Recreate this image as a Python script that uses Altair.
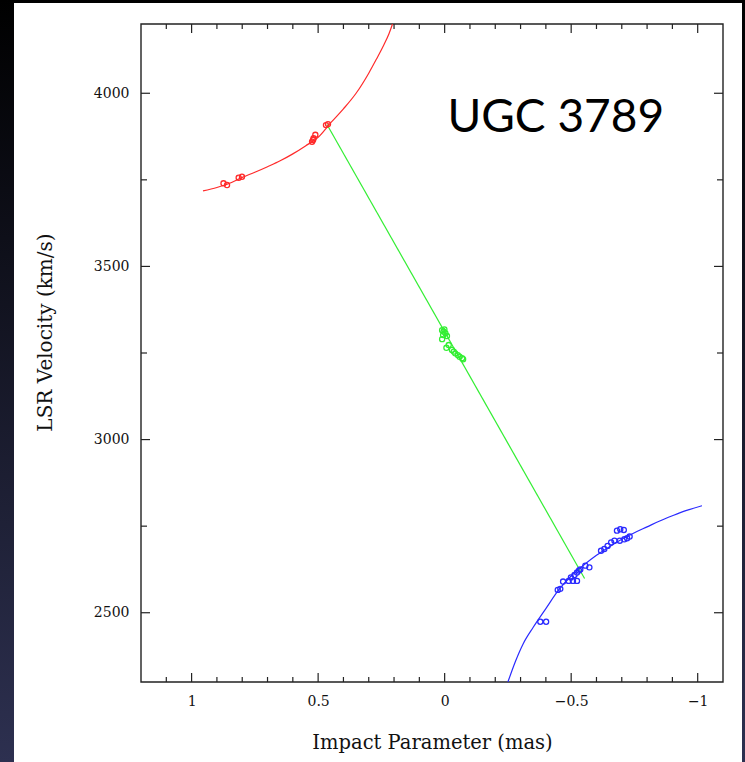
import altair as alt
import pandas as pd

# ---- data ----
red_curve_b = [0.955, 0.90, 0.85, 0.80, 0.75, 0.70, 0.65, 0.60, 0.55, 0.50, 0.45, 0.40, 0.35, 0.30, 0.27, 0.24, 0.22, 0.206]
red_curve_v = [3718, 3728, 3740, 3757, 3772, 3788, 3805, 3825, 3848, 3873, 3915, 3955, 4000, 4058, 4098, 4140, 4172, 4200]

blue_curve_b = [-0.25, -0.28, -0.31, -0.35, -0.40, -0.45, -0.50, -0.55, -0.60, -0.65, -0.70, -0.75, -0.80, -0.85, -0.90, -0.95, -1.017]
blue_curve_v = [2300, 2360, 2410, 2458, 2512, 2565, 2606, 2638, 2666, 2690, 2712, 2731, 2748, 2765, 2780, 2794, 2809]

green_line_b = [0.465, -0.553]
green_line_v = [3910, 2599]

red_pts_b = [0.874, 0.860, 0.814, 0.801, 0.524, 0.518, 0.511, 0.520, 0.469, 0.461]
red_pts_v = [3740, 3735, 3756, 3759, 3860, 3870, 3880, 3865, 3908, 3911]

green_pts_b = [0.010, 0.004, -0.003, 0.006, -0.009, 0.010, -0.016, -0.007, -0.029, -0.036, -0.042, -0.052, -0.059, -0.069, -0.073, 0.001]
green_pts_v = [3316, 3312, 3307, 3302, 3299, 3290, 3273, 3265, 3259, 3254, 3249, 3244, 3239, 3235, 3232, 3318]

blue_pts_b = [-0.378, -0.401, -0.447, -0.457, -0.468, -0.490, -0.507, -0.523, -0.499, -0.513, -0.523, -0.531, -0.536,
              -0.556, -0.572, -0.618, -0.631, -0.644, -0.658, -0.671, -0.681, -0.694, -0.708, -0.692, -0.710, -0.721, -0.731]
blue_pts_v = [2474, 2474, 2566, 2569, 2590, 2592, 2592, 2592, 2602, 2609, 2616, 2622, 2625,
              2636, 2631, 2679, 2684, 2693, 2703, 2708, 2737, 2741, 2739, 2708, 2712, 2715, 2720]

x_major = [1, 0.5, 0, -0.5, -1]
x_minor = [1.1, 0.9, 0.8, 0.7, 0.6, 0.4, 0.3, 0.2, 0.1, -0.1, -0.2, -0.3, -0.4, -0.6, -0.7, -0.8, -0.9]
y_major = [2500, 3000, 3500, 4000]
y_minor = [2750, 3250, 3750]

label_text = ["UGC 3789"]
label_b = [-0.011]
label_v = [3888]

# ---- layout ----
W, H = 582, 658
PAD = {"left": 141, "top": 24, "right": 22, "bottom": 80}

xs = alt.Scale(domain=[-1.1, 1.2], reverse=True, nice=False, zero=False)
ys = alt.Scale(domain=[2300, 4200], nice=False, zero=False)

x_axis = alt.Axis(values=x_major, format="~g", labelFont="DejaVu Serif", labelFontSize=14,
                  labelColor="#111111", labelPadding=12, domain=False, ticks=False, grid=False,
                  title="Impact Parameter (mas)", titleFont="DejaVu Serif", titleFontSize=19.5,
                  titleFontWeight="normal", titleColor="#111111", titlePadding=25, zindex=1)
y_axis = alt.Axis(values=y_major, format="d", labelFont="DejaVu Serif", labelFontSize=14,
                  labelColor="#111111", labelPadding=12, domain=False, ticks=False, grid=False,
                  title="LSR Velocity (km/s)", titleFont="DejaVu Serif", titleFontSize=20,
                  titleFontWeight="normal", titleColor="#111111", titlePadding=38, titleY=308, zindex=1)

def X():
    return alt.X("b:Q", scale=xs, axis=x_axis)

def Y():
    return alt.Y("v:Q", scale=ys, axis=y_axis)

one = alt.Data(values=[{"k": 1}])

bg = alt.Chart(one).mark_rect(
    color=alt.LinearGradient(gradient="linear",
                             stops=[alt.GradientStop(color="#000000", offset=0),
                                    alt.GradientStop(color="#2d3050", offset=1)],
                             x1=0, x2=0, y1=0, y2=1)
).encode(x=alt.value(-141), x2=alt.value(604), y=alt.value(-24), y2=alt.value(738))

panel = alt.Chart(one).mark_rect(color="white").encode(
    x=alt.value(-127), x2=alt.value(601), y=alt.value(-21), y2=alt.value(738))

frame = alt.Chart(one).mark_rect(filled=False, stroke="#222222", strokeWidth=1.4).encode(
    x=alt.value(0), x2=alt.value(W), y=alt.value(0), y2=alt.value(H))

xmaj = pd.DataFrame({"b": x_major})
xmin = pd.DataFrame({"b": x_minor})
ymaj = pd.DataFrame({"v": y_major})
ymin = pd.DataFrame({"v": y_minor})

tick_color = "#222222"
ticks = [
    alt.Chart(xmaj).mark_rule(color=tick_color, strokeWidth=1.2).encode(x=X(), y=alt.value(H), y2=alt.value(H - 9)),
    alt.Chart(xmaj).mark_rule(color=tick_color, strokeWidth=1.2).encode(x=X(), y=alt.value(0), y2=alt.value(9)),
    alt.Chart(xmin).mark_rule(color=tick_color, strokeWidth=1.2).encode(x=X(), y=alt.value(H), y2=alt.value(H - 5)),
    alt.Chart(xmin).mark_rule(color=tick_color, strokeWidth=1.2).encode(x=X(), y=alt.value(0), y2=alt.value(5)),
    alt.Chart(ymaj).mark_rule(color=tick_color, strokeWidth=1.2).encode(y=Y(), x=alt.value(0), x2=alt.value(9)),
    alt.Chart(ymaj).mark_rule(color=tick_color, strokeWidth=1.2).encode(y=Y(), x=alt.value(W), x2=alt.value(W - 9)),
    alt.Chart(ymin).mark_rule(color=tick_color, strokeWidth=1.2).encode(y=Y(), x=alt.value(0), x2=alt.value(6)),
    alt.Chart(ymin).mark_rule(color=tick_color, strokeWidth=1.2).encode(y=Y(), x=alt.value(W), x2=alt.value(W - 6)),
]

RED, GREEN, BLUE = "#ff2a2a", "#33ee33", "#2a2aff"

green_line = alt.Chart(pd.DataFrame({"b": green_line_b, "v": green_line_v})).mark_line(
    color=GREEN, strokeWidth=1.2, clip=True).encode(x=X(), y=Y())
red_line = alt.Chart(pd.DataFrame({"b": red_curve_b, "v": red_curve_v})).mark_line(
    color=RED, strokeWidth=1.2, interpolate="monotone", clip=True).encode(x=X(), y=Y(), order="b:Q")
blue_line = alt.Chart(pd.DataFrame({"b": blue_curve_b, "v": blue_curve_v})).mark_line(
    color=BLUE, strokeWidth=1.2, interpolate="monotone", clip=True).encode(x=X(), y=Y(), order="b:Q")

def pts(bs, vs, c):
    return alt.Chart(pd.DataFrame({"b": bs, "v": vs})).mark_point(
        shape="circle", filled=False, size=26, strokeWidth=1.3, color=c, opacity=1).encode(x=X(), y=Y())

red_p = pts(red_pts_b, red_pts_v, RED)
green_p = pts(green_pts_b, green_pts_v, GREEN)
blue_p = pts(blue_pts_b, blue_pts_v, BLUE)

label = alt.Chart(pd.DataFrame({"b": label_b, "v": label_v, "t": label_text})).mark_text(
    font="Lato", fontSize=46, color="black", align="left", baseline="alphabetic").encode(
    x=X(), y=Y(), text="t:N")

chart = alt.layer(bg, panel, frame, *ticks, green_line, red_line, blue_line, red_p, green_p, blue_p, label).properties(
    width=W, height=H, autosize=alt.AutoSizeParams(type="none"), padding=PAD
).configure_view(stroke=None).configure(background="#000000")

chart.save("out.html", embed_options={"renderer": "svg", "actions": False})
